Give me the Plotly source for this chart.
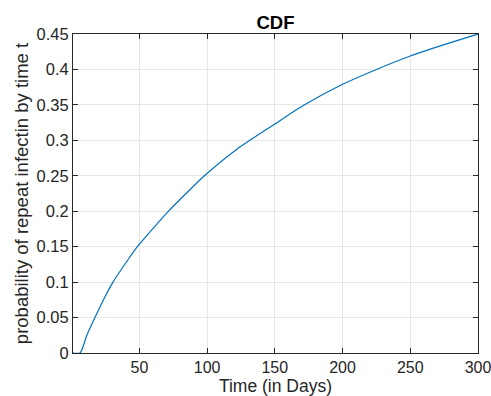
import plotly.graph_objects as go

# Empirical CDF of time to repeat infection
days = [1, 6.2, 11, 17.2, 24, 30.5, 42.5, 48.5, 60, 71, 85, 98, 122,
        150, 171, 200, 225, 250, 275, 300]
cdf = [0, 0, 0.024, 0.05, 0.077, 0.1, 0.134, 0.15, 0.1755, 0.199, 0.226,
       0.25, 0.2875, 0.323, 0.349, 0.379, 0.4, 0.419, 0.435, 0.45]

x_ticks = [50, 100, 150, 200, 250, 300]
y_ticks = [0, 0.05, 0.1, 0.15, 0.2, 0.25, 0.3, 0.35, 0.4, 0.45]
y_labels = ["0", "0.05", "0.1", "0.15", "0.2", "0.25", "0.3", "0.35", "0.4", "0.45"]

axis_color = "#262626"
grid_color = "#e6e6e6"
font_family = "Liberation Sans, Arial, sans-serif"

fig = go.Figure()
fig.add_trace(go.Scatter(
    x=days, y=cdf, mode="lines",
    line=dict(color="#0072BD", width=1.2, shape="spline", smoothing=0.6),
    hoverinfo="skip", showlegend=False,
))

fig.update_layout(
    width=491, height=396,
    margin=dict(l=73, r=13, t=34, b=43, autoexpand=False),
    paper_bgcolor="white", plot_bgcolor="white",
    font=dict(family=font_family, size=16, color=axis_color),
    title=dict(text="<b>CDF</b>", x=0.5, xanchor="center", xref="paper",
               y=1, yref="paper", yanchor="bottom", pad=dict(b=5),
               font=dict(size=18.5, color="black")),
)

fig.update_xaxes(
    range=[1, 300], tickvals=x_ticks, ticktext=[str(v) for v in x_ticks],
    showgrid=True, gridcolor=grid_color, gridwidth=1, zeroline=False,
    showline=True, linecolor=axis_color, linewidth=1, mirror="ticks",
    ticks="inside", ticklen=5, tickcolor=axis_color, automargin=False,
    ticklabeloverflow="allow",
    tickfont=dict(size=16, color=axis_color),
    title=dict(text="Time (in Days)", font=dict(size=17.5, color=axis_color), standoff=3),
)
fig.update_yaxes(
    range=[0, 0.45], tickvals=y_ticks, ticktext=y_labels,
    showgrid=True, gridcolor=grid_color, gridwidth=1, zeroline=False,
    showline=True, linecolor=axis_color, linewidth=1, mirror="ticks",
    ticks="inside", ticklen=5, tickcolor=axis_color, automargin=False,
    tickfont=dict(size=16.5, color=axis_color),
    title=dict(text="probability of repeat infectin by time t",
               font=dict(size=18.5, color=axis_color), standoff=3),
)

fig.write_html("out.html")
